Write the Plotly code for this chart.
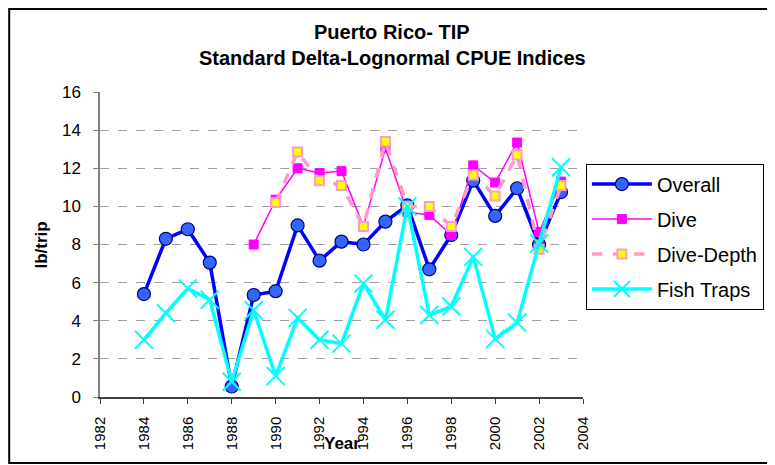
import plotly.graph_objects as go

# --- Data ---
years = list(range(1984, 2004))
overall = [5.4, 8.3, 8.8, 7.05, 0.55, 5.35, 5.55, 9.0, 7.15, 8.15, 8.0, 9.2, 10.05, 6.7, 8.5, 11.35, 9.5, 10.95, 8.0, 10.75]
dive_years = list(range(1989, 2004))
dive = [8.0, 10.35, 12.0, 11.75, 11.85, 8.95, 13.05, 9.7, 9.55, 8.5, 12.15, 11.25, 13.35, 8.65, 11.3]
depth_years = list(range(1990, 2004))
dive_depth = [10.2, 12.85, 11.35, 11.1, 8.95, 13.4, 10.0, 10.0, 8.95, 11.65, 10.55, 12.7, 7.75, 11.1]
fish_traps = [3.0, 4.4, 5.7, 5.1, 0.8, 4.55, 1.1, 4.15, 3.0, 2.8, 5.95, 4.05, 10.0, 4.3, 4.75, 7.35, 3.05, 3.9, 8.05, 12.05]

x_ticks = list(range(1982, 2005, 2))
y_ticks = list(range(0, 17, 2))

FONT = "Liberation Sans, Arial, sans-serif"

fig = go.Figure()

fig.add_trace(go.Scatter(
    x=years, y=overall, name="Overall", mode="lines+markers", legendgroup="a",
    line=dict(color="#0000FF", width=3.5),
    marker=dict(symbol="circle", size=13, color="#3366FF",
                line=dict(color="#000080", width=1.2)),
))
fig.add_trace(go.Scatter(
    x=dive_years, y=dive, name="Dive", mode="lines+markers", legendgroup="b",
    line=dict(color="#FF00FF", width=1.5),
    marker=dict(symbol="square", size=9, color="#FF00FF",
                line=dict(color="#FF00FF", width=1)),
))
fig.add_trace(go.Scatter(
    x=depth_years, y=dive_depth, name="Dive-Depth", mode="lines+markers", legendgroup="c",
    line=dict(color="#FF99CC", width=3.5, dash="dash"),
    marker=dict(symbol="square", size=9, color="#FFFF00",
                line=dict(color="#FF99CC", width=2)),
))
fig.add_trace(go.Scatter(
    x=years, y=fish_traps, name="Fish Traps", mode="lines+markers", legendgroup="d",
    line=dict(color="#00FFFF", width=3.5),
    marker=dict(symbol="x-thin", size=18, color="#00FFFF",
                line=dict(color="#00FFFF", width=2)),
))

# border around the whole chart area
fig.add_shape(type="rect", xref="paper", yref="paper",
              x0=-0.188, x1=1.387, y0=-0.216, y1=1.272,
              line=dict(color="black", width=2), fillcolor="rgba(0,0,0,0)")

# title (two lines, centred on the chart area)
fig.add_annotation(x=0.605, y=1.198, xref="paper", yref="paper", xanchor="center", yanchor="middle",
                   text="<b>Puerto Rico- TIP</b>", showarrow=False,
                   font=dict(size=20, color="black"))
fig.add_annotation(x=0.605, y=1.110, xref="paper", yref="paper", xanchor="center", yanchor="middle",
                   text="<b>Standard Delta-Lognormal CPUE Indices</b>", showarrow=False,
                   font=dict(size=20, color="black"))

# axis titles
fig.add_annotation(x=-0.145, y=0.498, xref="paper", yref="paper", text="<b>lb/trip</b>",
                   textangle=-90, showarrow=False, font=dict(size=17, color="black"))
fig.add_annotation(x=0.5, y=-0.19, xref="paper", yref="paper", text="<b>Year</b>",
                   showarrow=False, font=dict(size=17, color="black"))

fig.update_layout(
    width=775, height=465,
    margin=dict(l=92, r=200, t=84, b=76),
    paper_bgcolor="white", plot_bgcolor="white",
    font=dict(family=FONT, color="black"),
    showlegend=True,
    legend=dict(x=1.006, xanchor="left", y=0.526, yanchor="middle",
                bordercolor="black", borderwidth=1, bgcolor="white",
                traceorder="grouped", tracegroupgap=6, itemwidth=60,
                font=dict(size=20, color="black")),
    xaxis=dict(range=[1982, 2004], tickvals=x_ticks, tickangle=-90,
               showgrid=False, zeroline=False, showline=True,
               linecolor="#404040", linewidth=1.5,
               ticks="outside", ticklen=5, tickcolor="#404040",
               ticklabelstandoff=7, tickfont=dict(size=15)),
    yaxis=dict(range=[0, 16], tickvals=y_ticks,
               showgrid=True, gridcolor="#A0A0A0", griddash="dash", gridwidth=1,
               zeroline=False, showline=True,
               linecolor="#808080", linewidth=1.5,
               ticks="outside", ticklen=5, tickcolor="#808080",
               ticklabelstandoff=9, tickfont=dict(size=17)),
)

fig.write_html("out.html")
